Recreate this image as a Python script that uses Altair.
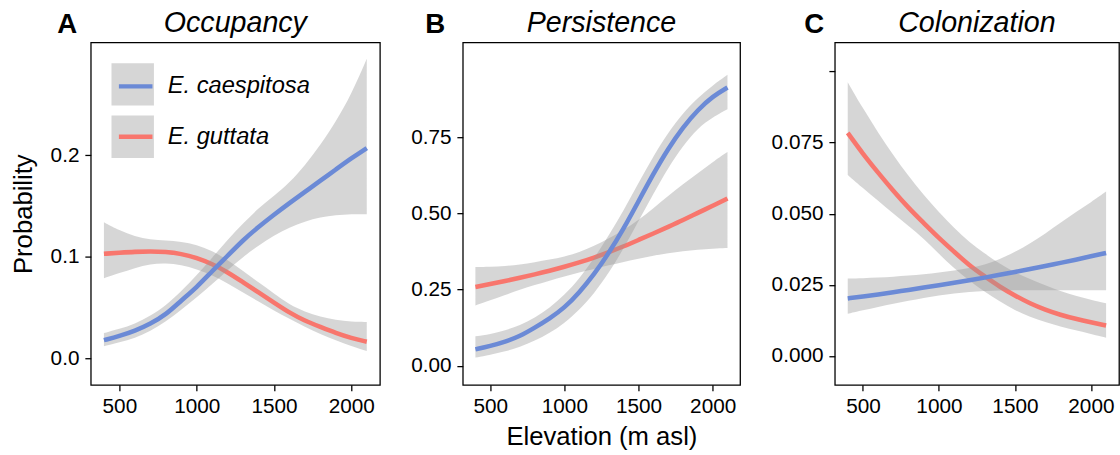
import altair as alt
import pandas as pd

FONT = "Liberation Sans"

ELEV = [400, 500, 600, 700, 800, 900, 1000, 1100, 1200, 1300,
        1400, 1500, 1600, 1700, 1800, 1900, 2000, 2100]
SPECIES = ["E. caespitosa", "E. guttata"]
COLORS = ["#6B8AD6", "#F8766D"]
LETTERS = ["A", "B", "C"]
TITLES = ["Occupancy", "Persistence", "Colonization"]

# ---- Occupancy ----
occ_caes_fit = [0.018, 0.022, 0.027, 0.034, 0.043, 0.057, 0.070, 0.086, 0.101,
                0.1165, 0.1295, 0.1415, 0.153, 0.164, 0.175, 0.186, 0.197, 0.207]
occ_caes_lo = [0.012, 0.016, 0.020, 0.027, 0.036, 0.048, 0.060, 0.073, 0.087,
               0.100, 0.111, 0.121, 0.129, 0.135, 0.139, 0.141, 0.142, 0.142]
occ_caes_hi = [0.025, 0.029, 0.034, 0.042, 0.052, 0.066, 0.082, 0.099, 0.117,
               0.133, 0.148, 0.160, 0.173, 0.190, 0.210, 0.233, 0.260, 0.295]
occ_gutt_fit = [0.103, 0.104, 0.105, 0.1055, 0.105, 0.103, 0.099, 0.093, 0.085,
                0.075, 0.065, 0.055, 0.045, 0.037, 0.031, 0.025, 0.020, 0.0165]
occ_gutt_lo = [0.079, 0.084, 0.089, 0.093, 0.094, 0.092, 0.088, 0.082, 0.074,
               0.065, 0.056, 0.047, 0.039, 0.031, 0.024, 0.018, 0.012, 0.0074]
occ_gutt_hi = [0.134, 0.126, 0.120, 0.117, 0.116, 0.115, 0.112, 0.106, 0.097,
               0.086, 0.075, 0.064, 0.053, 0.046, 0.041, 0.038, 0.036, 0.036]

# ---- Persistence ----
per_caes_fit = [0.054, 0.065, 0.079, 0.097, 0.125, 0.155, 0.190, 0.240, 0.300,
                0.370, 0.450, 0.540, 0.630, 0.713, 0.783, 0.840, 0.884, 0.913]
per_caes_lo = [0.027, 0.036, 0.047, 0.062, 0.082, 0.107, 0.140, 0.183, 0.237,
               0.305, 0.385, 0.475, 0.565, 0.650, 0.722, 0.780, 0.815, 0.842]
per_caes_hi = [0.097, 0.104, 0.116, 0.133, 0.157, 0.190, 0.232, 0.285, 0.352,
               0.428, 0.510, 0.600, 0.688, 0.765, 0.830, 0.880, 0.920, 0.955]
per_gutt_fit = [0.259, 0.268, 0.278, 0.289, 0.300, 0.312, 0.325, 0.339, 0.355,
                0.373, 0.392, 0.413, 0.434, 0.456, 0.478, 0.502, 0.525, 0.549]
per_gutt_lo = [0.198, 0.215, 0.232, 0.250, 0.265, 0.279, 0.293, 0.306, 0.318,
               0.330, 0.341, 0.351, 0.362, 0.370, 0.376, 0.381, 0.384, 0.387]
per_gutt_hi = [0.324, 0.325, 0.327, 0.332, 0.340, 0.349, 0.358, 0.373, 0.393,
               0.418, 0.446, 0.478, 0.517, 0.558, 0.596, 0.632, 0.668, 0.702]

# ---- Colonization ----
col_caes_fit = [0.0202, 0.0209, 0.0216, 0.0224, 0.0232, 0.0240, 0.0248, 0.0257, 0.0266,
                0.0275, 0.0285, 0.0295, 0.0305, 0.0316, 0.0327, 0.0338, 0.0350, 0.0362]
col_caes_lo = [0.0148, 0.0160, 0.0172, 0.0183, 0.0194, 0.0204, 0.0213, 0.0220, 0.0225,
               0.0228, 0.0230, 0.0231, 0.0231, 0.0231, 0.0231, 0.0231, 0.0231, 0.0231]
col_caes_hi = [0.0272, 0.0273, 0.0275, 0.0278, 0.0282, 0.0287, 0.0293, 0.0300, 0.0308,
               0.0320, 0.0340, 0.0365, 0.0395, 0.0430, 0.0468, 0.0505, 0.0540, 0.0578]
col_gutt_fit = [0.0784, 0.0710, 0.0644, 0.0580, 0.0520, 0.0467, 0.0414, 0.0366, 0.0318,
                0.0280, 0.0243, 0.0212, 0.0184, 0.0162, 0.0144, 0.0130, 0.0118, 0.0107]
col_gutt_lo = [0.0636, 0.0590, 0.0545, 0.0500, 0.0457, 0.0413, 0.0358, 0.0308, 0.0264,
               0.0226, 0.0191, 0.0160, 0.0137, 0.0118, 0.0103, 0.0090, 0.0077, 0.0064]
col_gutt_hi = [0.0962, 0.0870, 0.0785, 0.0705, 0.0632, 0.0565, 0.0505, 0.0450, 0.0400,
               0.0360, 0.0324, 0.0293, 0.0270, 0.0248, 0.0228, 0.0211, 0.0197, 0.0185]


def make_df(cf, cl, ch, gf, gl, gh):
    rows = []
    for sp, fit, lo, hi in [(SPECIES[0], cf, cl, ch), (SPECIES[1], gf, gl, gh)]:
        for e, f, l, h in zip(ELEV, fit, lo, hi):
            rows.append({"elev": e, "species": sp, "band": sp, "fit": f, "lo": l, "hi": h})
    return pd.DataFrame(rows)


def panel(df, idx, ydom, yticks, ylabel_expr, width, letter_dx,
          show_legend, ytitle, xtitle):
    xscale = alt.Scale(domain=[315, 2185], nice=False, zero=False)
    yscale = alt.Scale(domain=ydom, nice=False, zero=False)
    xaxis_kw = dict(values=[500, 1000, 1500, 2000], format="d", labelPadding=5)
    if xtitle:
        xaxis = alt.Axis(title=xtitle, titlePadding=7, **xaxis_kw)
    else:
        xaxis = alt.Axis(title=None, **xaxis_kw)
    yaxis_kw = dict(values=yticks, labelExpr=ylabel_expr, labelPadding=6)
    if ytitle:
        yaxis = alt.Axis(title=ytitle, titlePadding=14, **yaxis_kw)
    else:
        yaxis = alt.Axis(title=None, **yaxis_kw)

    if show_legend:
        fill_leg = alt.Legend(orient="none", legendX=21, legendY=21, title=None,
                              symbolType="square", symbolSize=1849, symbolOpacity=0.4,
                              symbolStrokeWidth=0, labelExpr="''", rowPadding=10,
                              padding=0, zindex=1)
        stroke_leg = alt.Legend(orient="none", legendX=26, legendY=25, title=None,
                                symbolType="stroke", symbolSize=1156, symbolStrokeWidth=4.5,
                                labelFont=FONT, labelFontSize=24, labelFontStyle="italic",
                                labelColor="black", labelOffset=13, labelLimit=300,
                                rowPadding=19, padding=0, zindex=2)
    else:
        fill_leg = None
        stroke_leg = None

    base = alt.Chart(df)
    layers = []
    for sp in [SPECIES[1], SPECIES[0]]:
        band = base.transform_filter(alt.datum.species == sp).mark_area(
            opacity=0.4, interpolate="basis").encode(
            x=alt.X("elev:Q", scale=xscale, axis=xaxis),
            y=alt.Y("lo:Q", scale=yscale, axis=yaxis),
            y2="hi:Q",
            fill=alt.Fill("band:N", scale=alt.Scale(range=["#999999", "#999999"]),
                          legend=fill_leg),
        )
        line = base.transform_filter(alt.datum.species == sp).mark_line(
            strokeWidth=4.6, interpolate="basis").encode(
            x=alt.X("elev:Q", scale=xscale, axis=xaxis),
            y=alt.Y("fit:Q", scale=yscale, axis=yaxis),
            stroke=alt.Stroke("species:N", scale=alt.Scale(domain=SPECIES, range=COLORS),
                              legend=stroke_leg),
        )
        layers += [band, line]

    letter = alt.Chart(pd.DataFrame({"t": [LETTERS[idx]]})).mark_text(
        font=FONT, fontSize=28, fontWeight="bold", align="center",
        baseline="alphabetic", color="black").encode(
        x=alt.value(letter_dx), y=alt.value(-10), text="t:N")
    layers.append(letter)

    return alt.layer(*layers).properties(
        width=width, height=347,
        title=alt.TitleParams(text=TITLES[idx], font=FONT, fontSize=29, fontStyle="italic",
                              fontWeight="normal", anchor="middle", frame="group",
                              baseline="alphabetic", offset=-50, color="black"),
    )


occ = make_df(occ_caes_fit, occ_caes_lo, occ_caes_hi, occ_gutt_fit, occ_gutt_lo, occ_gutt_hi)
per = make_df(per_caes_fit, per_caes_lo, per_caes_hi, per_gutt_fit, per_gutt_lo, per_gutt_hi)
col = make_df(col_caes_fit, col_caes_lo, col_caes_hi, col_gutt_fit, col_gutt_lo, col_gutt_hi)

pA = panel(occ, 0, [-0.026, 0.311], [0, 0.1, 0.2], "format(datum.value, '.1f')",
           293, -24, True, "Probability", None)
pB = panel(per, 1, [-0.0625, 1.061], [0, 0.25, 0.5, 0.75], "format(datum.value, '.2f')",
           281, -28, False, None, "Elevation (m asl)")
pC = panel(col, 2, [-0.0102, 0.1102], [0, 0.025, 0.05, 0.075, 0.1],
           "datum.value > 0.09 ? '' : format(datum.value, '.3f')",
           288, -21, False, None, None)

chart = alt.hconcat(pA, pB, pC, spacing=29).resolve_scale(
    x="independent", y="independent", stroke="independent", fill="independent"
).resolve_legend(stroke="independent", fill="independent").properties(
    padding={"left": 10, "top": 5, "right": 0, "bottom": 0}, background="white"
).configure_view(stroke="black", strokeWidth=1.3).configure_axis(
    labelFont=FONT, labelFontSize=21, labelColor="black",
    titleFont=FONT, titleFontSize=26, titleColor="black", titleFontWeight="normal",
    tickColor="black", tickWidth=1.3, tickSize=6, domain=False, grid=False,
)

chart.save("out.html", embed_options={"renderer": "svg", "actions": False})
